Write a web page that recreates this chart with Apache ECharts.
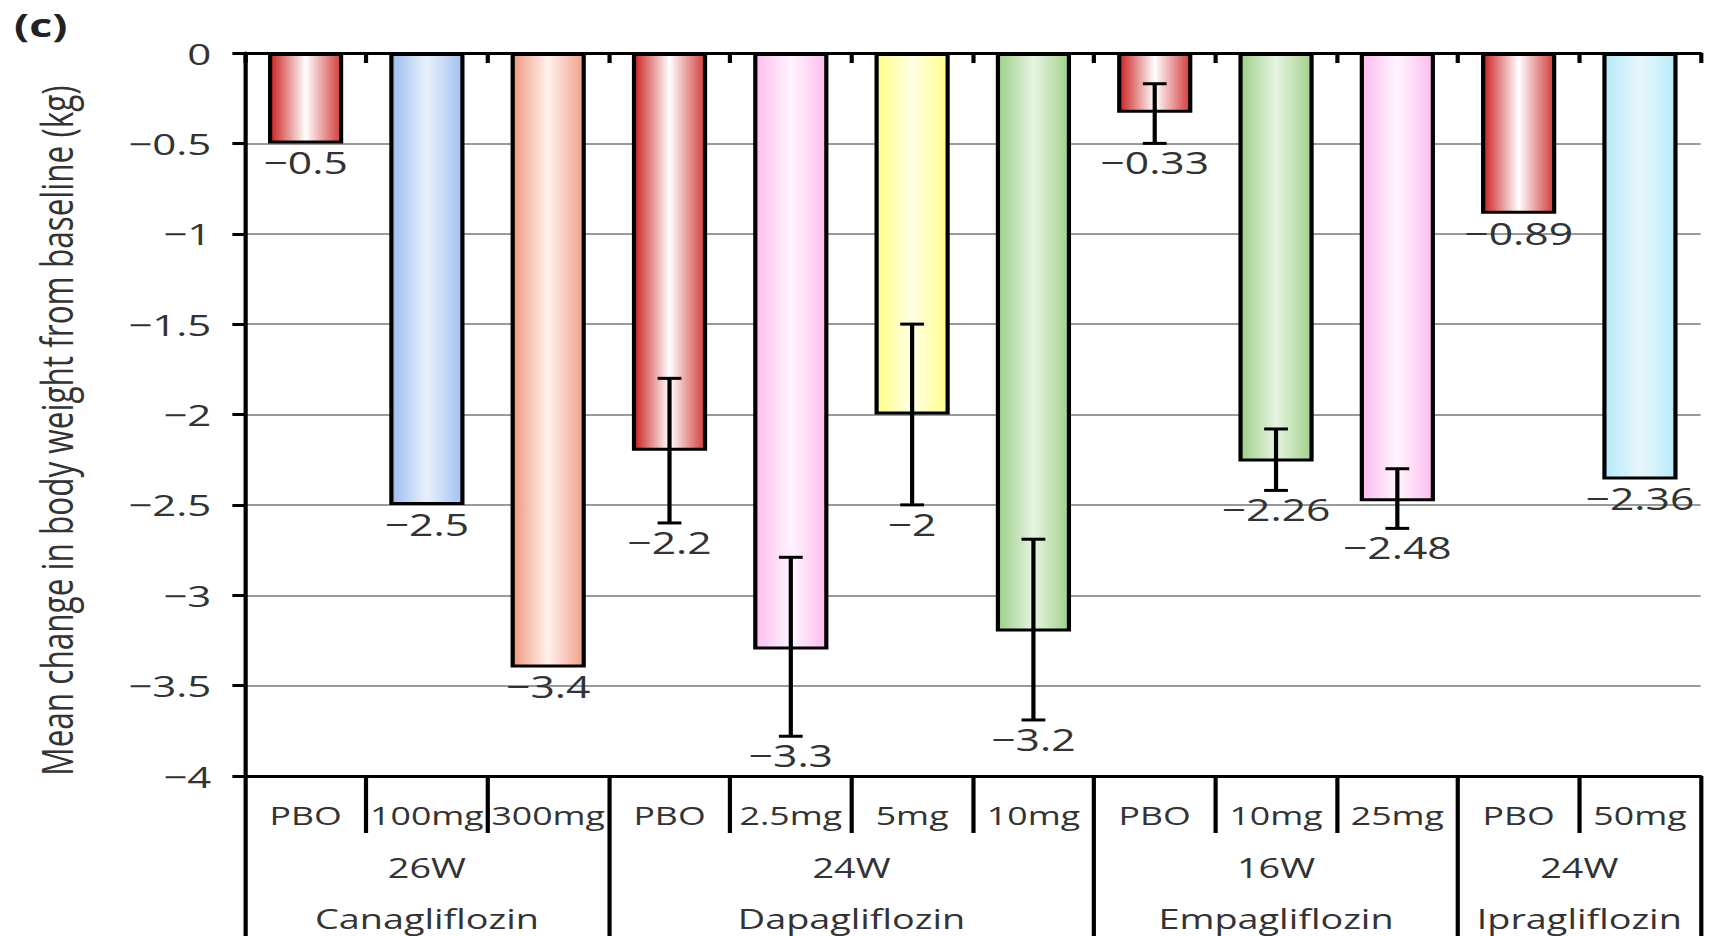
<!DOCTYPE html>
<html>
<head>
<meta charset="utf-8">
<script src="https://cdn.jsdelivr.net/npm/echarts@6/dist/echarts.min.js"></script>
<style>
  html, body { margin: 0; padding: 0; background: #fff; overflow: hidden; }
  /* the figure is laid out narrow and widened horizontally */
  #chart { width: 1221px; height: 936px; transform: scaleX(1.39967); transform-origin: 0 0; }
</style>
</head>
<body>
<div id="chart"></div>
<script>
// ---- data ----
const doseLabels = ['PBO', '100mg', '300mg', 'PBO', '2.5mg', '5mg', '10mg', 'PBO', '10mg', '25mg', 'PBO', '50mg'];
const drugNames = ['Canagliflozin', 'Dapagliflozin', 'Empagliflozin', 'Ipragliflozin'];
const studyWeeks = ['26W', '24W', '16W', '24W'];
const groupSizes = [3, 4, 3, 2];
const meanChange = [-0.5, -2.5, -3.4, -2.2, -3.3, -2.0, -3.2, -0.33, -2.26, -2.48, -0.89, -2.36];
const errLow  = [null, null, null, -2.6, -3.78, -2.5, -3.69, -0.5, -2.42, -2.63, null, null];
const errHigh = [null, null, null, -1.8, -2.79, -1.5, -2.69, -0.17, -2.08, -2.3, null, null];
const fillKeys = ['placebo', 'blue', 'salmon', 'placebo', 'pink', 'yellow', 'green', 'placebo', 'green', 'pink', 'placebo', 'cyan'];
const yTitle = 'Mean change in body weight from baseline (kg)';

// ---- styling ----
const FONT = '"Open Sans", "Noto Sans", sans-serif';
const TEXT = '#333333';
const fills = {
  placebo: ['#cb1f1f', '#ffffff', '#d23a3a'],
  blue:    ['#9cbcee', '#e9f1fc', '#a2c0ef'],
  salmon:  ['#ee987f', '#fff1ed', '#f0a088'],
  pink:    ['#fdbbef', '#fff5fd', '#fdbcef'],
  yellow:  ['#ffff86', '#ffffe6', '#ffff88'],
  green:   ['#9ccf86', '#e7f4e1', '#a2d28b'],
  cyan:    ['#b2e9f9', '#e8f7fb', '#b7ebf9']
};
function gradient(c) {
  return new echarts.graphic.LinearGradient(0, 0, 1, 0, [
    { offset: 0, color: c[0] }, { offset: 0.5, color: c[1] }, { offset: 1, color: c[2] }
  ]);
}
const withMinus = v => String(v).replace('-', '\u2212');

// group boundaries in category units
const groupStart = [];
let acc = 0;
groupSizes.forEach(n => { groupStart.push(acc); acc += n; });
const nCat = acc;
const groupEdges = groupStart.concat([nCat]);
const groupCenters = groupStart.map((s, i) => s + groupSizes[i] / 2);
const doseEdges = [];
groupStart.forEach((s, i) => { for (let k = 1; k < groupSizes[i]; k++) doseEdges.push(s + k); });

const barData = meanChange.map((v, i) => ({ value: v, itemStyle: { color: gradient(fills[fillKeys[i]]) } }));
const errData = [];
meanChange.forEach((v, i) => { if (errLow[i] !== null) errData.push([i, errLow[i], errHigh[i]]); });
const labelData = meanChange.map((v, i) => [i, errLow[i] !== null ? Math.min(errLow[i], v) : v, v]);

const blackLine = { color: '#000', width: 3 };

const option = {
  animation: false,
  title: {
    text: '(c)', left: 5, top: 3,
    textStyle: { fontFamily: FONT, fontWeight: 'bold', fontSize: 32, color: '#222' }
  },
  grid: { left: 175, right: 6, top: 53, bottom: 160 },
  xAxis: [
    { // zero line with boundary ticks
      type: 'category', data: doseLabels, position: 'top', boundaryGap: true,
      axisLine: { show: true, onZero: false, lineStyle: blackLine },
      axisTick: { show: true, inside: true, length: 10, interval: 0, lineStyle: blackLine },
      axisLabel: { show: false }, splitLine: { show: false }
    },
    { // dose row
      type: 'category', data: doseLabels, position: 'bottom', boundaryGap: true,
      axisLine: { show: true, onZero: false, lineStyle: blackLine },
      axisTick: { show: false },
      axisLabel: { interval: 0, margin: 26, fontFamily: FONT, fontSize: 25.5, color: TEXT },
      splitLine: { show: false }
    },
    { // dose dividers + study length row
      type: 'value', min: 0, max: nCat, position: 'bottom',
      axisLine: { show: false, onZero: false },
      axisTick: { show: true, customValues: doseEdges, length: 57, lineStyle: blackLine },
      axisLabel: {
        show: true, customValues: groupCenters, margin: 78,
        formatter: v => studyWeeks[groupCenters.indexOf(v)],
        fontFamily: FONT, fontSize: 27, color: TEXT
      },
      splitLine: { show: false }
    },
    { // group dividers + drug row
      type: 'value', min: 0, max: nCat, position: 'bottom',
      axisLine: { show: false, onZero: false },
      axisTick: { show: true, customValues: groupEdges, length: 160, lineStyle: blackLine },
      axisLabel: {
        show: true, customValues: groupCenters, margin: 129,
        formatter: v => drugNames[groupCenters.indexOf(v)],
        fontFamily: FONT, fontSize: 27, color: TEXT
      },
      splitLine: { show: false }
    }
  ],
  yAxis: {
    type: 'value', min: -4, max: 0, interval: 0.5,
    name: yTitle, nameLocation: 'middle', nameRotate: 90, nameGap: 119,
    nameTextStyle: { fontFamily: FONT, fontSize: 31.5, color: TEXT, padding: [0, 32, 0, 0] },
    axisLine: { show: true, onZero: false, lineStyle: blackLine },
    axisTick: { show: true, length: 9, lineStyle: blackLine },
    axisLabel: {
      margin: 24, fontFamily: FONT, fontSize: 30, color: TEXT,
      formatter: v => (v === 0 ? '0' : withMinus(v))
    },
    splitLine: { show: true, lineStyle: { color: '#9a9a9a', width: 2 } }
  },
  series: [
    {
      type: 'bar', xAxisIndex: 0, yAxisIndex: 0, barWidth: '62%',
      data: barData,
      itemStyle: { borderColor: '#000', borderWidth: 3 },
      z: 2
    },
    { // standard error bars
      type: 'custom', xAxisIndex: 0, yAxisIndex: 0, z: 3,
      data: errData,
      encode: { x: 0, y: [1, 2] },
      renderItem: function (params, api) {
        const i = api.value(0);
        const lo = api.coord([i, api.value(1)]);
        const hi = api.coord([i, api.value(2)]);
        const hw = 8.5;
        const st = { stroke: '#000', lineWidth: 3 };
        return {
          type: 'group',
          children: [
            { type: 'line', shape: { x1: lo[0], y1: hi[1], x2: lo[0], y2: lo[1] }, style: st },
            { type: 'line', shape: { x1: lo[0] - hw, y1: hi[1], x2: lo[0] + hw, y2: hi[1] }, style: st },
            { type: 'line', shape: { x1: lo[0] - hw, y1: lo[1], x2: lo[0] + hw, y2: lo[1] }, style: st }
          ]
        };
      }
    },
    { // value labels under each bar / error bar
      type: 'custom', xAxisIndex: 0, yAxisIndex: 0, z: 4,
      data: labelData,
      encode: { x: 0, y: 1 },
      renderItem: function (params, api) {
        const p = api.coord([api.value(0), api.value(1)]);
        return {
          type: 'text', x: p[0], y: p[1] + 19,
          style: {
            text: withMinus(api.value(2)),
            fontFamily: FONT, fontSize: 30.5, fill: TEXT,
            align: 'center', verticalAlign: 'middle'
          }
        };
      }
    }
  ]
};

const chart = echarts.init(document.getElementById('chart'), null, { renderer: 'svg' });
chart.setOption(option);
</script>
</body>
</html>
